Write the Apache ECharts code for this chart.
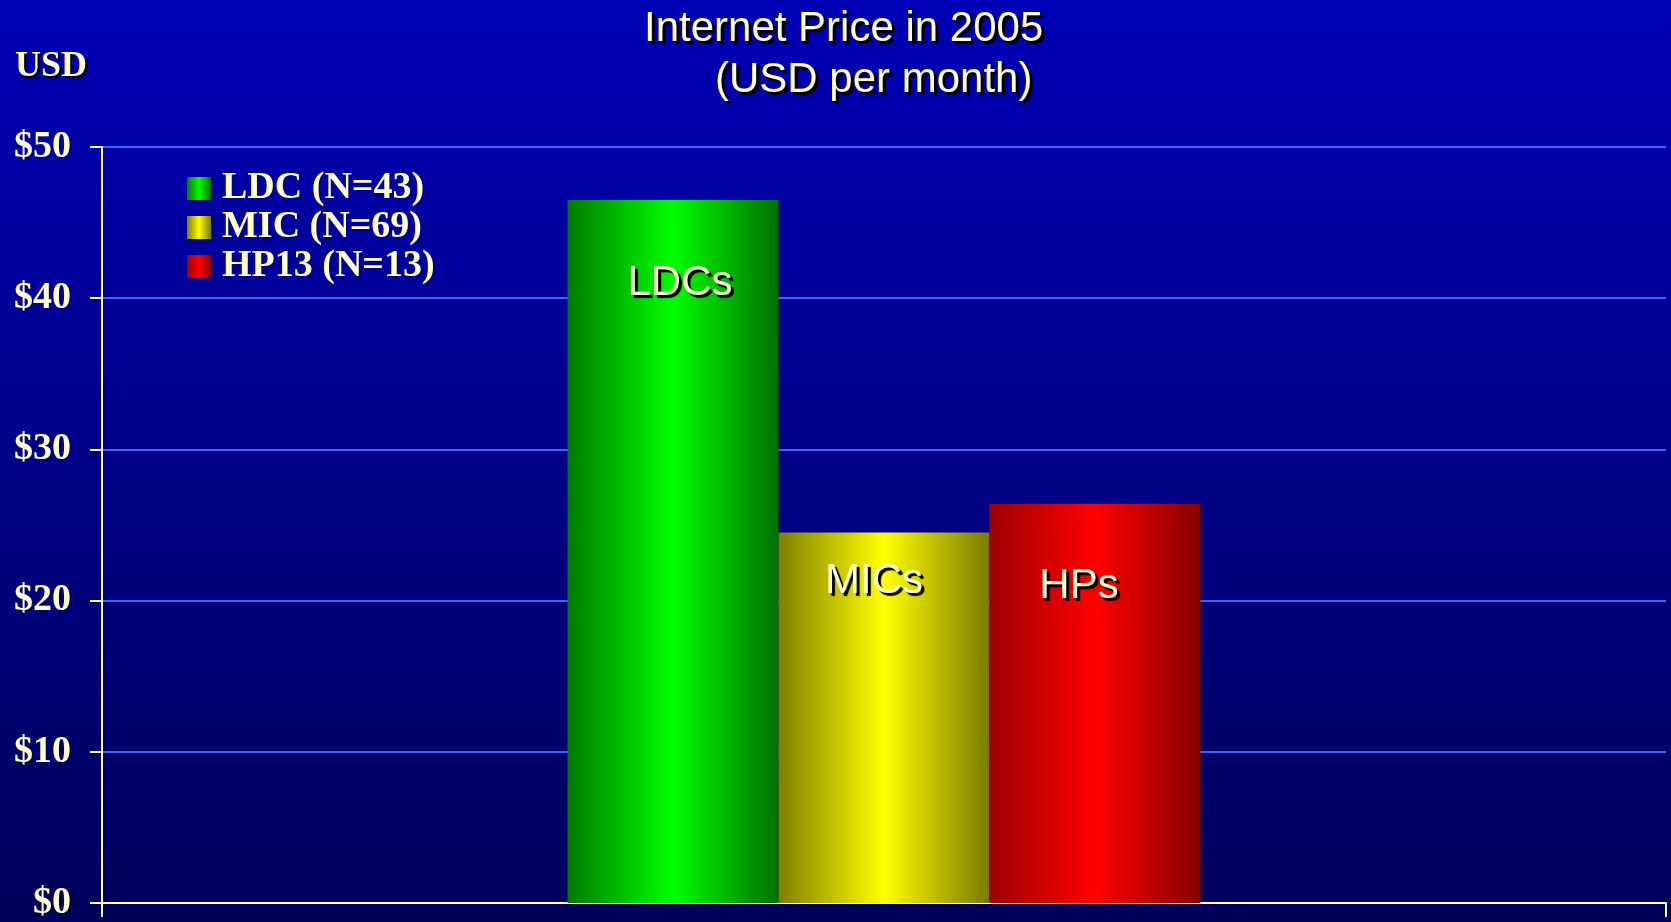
<!DOCTYPE html>
<html>
<head>
<meta charset="utf-8">
<script src="https://cdn.jsdelivr.net/npm/echarts@6/dist/echarts.min.js"></script>
<style>
html, body { margin: 0; padding: 0; background: #00005c; }
#chart { width: 1671px; height: 922px; }
</style>
</head>
<body>
<div id="chart"></div>
<script>
// data
const categories = ['2005']
const seriesNames = ['LDC (N=43)', 'MIC (N=69)', 'HP13 (N=13)']
const barLabels = ['LDCs', 'MICs', 'HPs']
const prices = [46.5, 24.5, 26.4]

const cream = '#ffffcc'
const serif = '"Liberation Serif", "Times New Roman", serif'
const sans = '"Liberation Sans", Arial, sans-serif'

// horizontal shading of each bar (dark edges, bright middle)
const shades = [
  ['#007a00', '#00ff00', '#007000'],
  ['#7f7f00', '#ffff00', '#7a7a00'],
  ['#9c0000', '#ff0000', '#880000']
]
const labelPos = [[7, 84], [-10, 49], [-16, 83]]

function barColor (c) {
  return new echarts.graphic.LinearGradient(0, 0, 1, 0, [
    { offset: 0, color: c[0] },
    { offset: 0.5, color: c[1] },
    { offset: 1, color: c[2] }
  ])
}

const shadow = {
  textShadowColor: '#000',
  textShadowBlur: 1,
  textShadowOffsetX: 3,
  textShadowOffsetY: 3
}

const chart = echarts.init(document.getElementById('chart'))

const option = {
  animation: false,
  backgroundColor: new echarts.graphic.LinearGradient(0, 0, 0, 1, [
    { offset: 0, color: '#0000b6' },
    { offset: 1, color: '#00005a' }
  ]),
  grid: { left: 102, right: 5, top: 147, bottom: 18 },
  graphic: [
    {
      type: 'text', x: 644, y: 29,
      style: Object.assign({
        text: 'Internet Price in 2005', fill: cream, font: '42px ' + sans,
        align: 'left', verticalAlign: 'middle'
      }, shadow)
    },
    {
      type: 'text', x: 715, y: 80,
      style: Object.assign({
        text: '(USD per month)', fill: cream, font: '42px ' + sans,
        align: 'left', verticalAlign: 'middle'
      }, shadow)
    },
    {
      type: 'text', x: 15, y: 67,
      style: {
        text: 'USD', fill: cream, font: 'bold 36px ' + serif,
        align: 'left', verticalAlign: 'middle',
        textShadowColor: '#000', textShadowBlur: 1, textShadowOffsetX: 2, textShadowOffsetY: 2
      }
    }
  ],
  legend: {
    orient: 'vertical',
    left: 187,
    top: 169,
    padding: 0,
    itemWidth: 24,
    itemHeight: 23,
    itemGap: 0,
    icon: 'rect',
    data: seriesNames,
    textStyle: {
      color: cream,
      fontFamily: serif,
      fontWeight: 'bold',
      fontSize: 38,
      lineHeight: 39,
      padding: [0, 0, 0, 6]
    }
  },
  xAxis: {
    type: 'category',
    data: categories,
    axisLine: { lineStyle: { color: cream, width: 2 } },
    axisTick: { show: true, length: 14, lineStyle: { color: cream, width: 2 } },
    axisLabel: { show: false }
  },
  yAxis: {
    type: 'value',
    min: 0,
    max: 50,
    interval: 10,
    axisLine: { show: true, lineStyle: { color: cream, width: 2 } },
    axisTick: { show: true, length: 12, lineStyle: { color: cream, width: 2 } },
    axisLabel: {
      color: cream,
      fontFamily: serif,
      fontWeight: 'bold',
      fontSize: 38,
      margin: 31,
      padding: [5, 0, 0, 0],
      formatter: v => '$' + v
    },
    splitLine: { lineStyle: { color: '#3366ff', width: 2 } }
  },
  series: seriesNames.map((name, i) => ({
    name: name,
    type: 'bar',
    barWidth: 211,
    barGap: '0%',
    data: [prices[i]],
    itemStyle: { color: barColor(shades[i]) },
    label: Object.assign({
      show: true,
      position: ['50%', labelPos[i][1]],
      offset: [labelPos[i][0], 0],
      align: 'center',
      verticalAlign: 'middle',
      formatter: () => barLabels[i],
      color: cream,
      fontFamily: sans,
      fontSize: 42
    }, shadow)
  }))
}

chart.setOption(option)
</script>
</body>
</html>
